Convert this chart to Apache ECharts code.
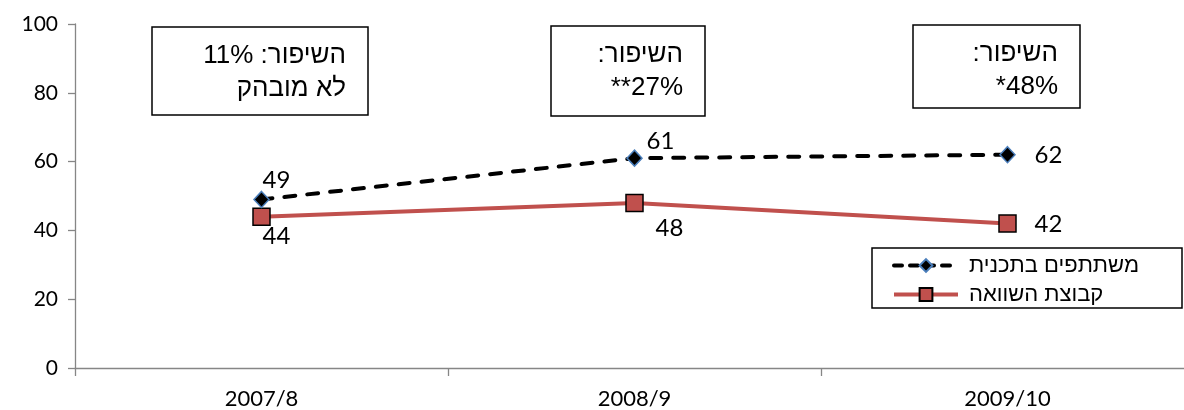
<!DOCTYPE html>
<html>
<head>
<meta charset="utf-8">
<script src="https://cdn.jsdelivr.net/npm/echarts@6/dist/echarts.min.js"></script>
<style>
html,body{margin:0;padding:0;background:#fff;}
#chart{width:1184px;height:410px;}
</style>
</head>
<body>
<div id="chart" dir="rtl"></div>
<script>
// ---- data ----
const categories = ['2007/8', '2008/9', '2009/10'];
const participants = [49, 61, 62];
const comparison = [44, 48, 42];
const seriesNames = ['משתתפים בתכנית', 'קבוצת השוואה'];
const yTicks = { min: 0, max: 100, interval: 20 };
const boxTexts = [
  'השיפור: 11%\nלא מובהק',
  'השיפור:\n27%**',
  'השיפור:\n48%*'
];

// ---- styles (label placements, not data) ----
const labelOffsets1 = [[15, -19], [26, -17], [41, 1]];
const labelOffsets2 = [[15, 20], [35, 25], [41, 1]];
const boxRects = [
  { x: 152, y: 27, w: 216, h: 88, tx: 346 },
  { x: 551, y: 26, w: 154, h: 90, tx: 683 },
  { x: 913, y: 25, w: 167, h: 83, tx: 1058 }
];
const legendFrame = { x: 872, y: 248, w: 310, h: 60 };

const numFont = 'Lato, "Liberation Sans", sans-serif';
const hebFont = '"Liberation Sans", Arial, sans-serif';

function withLabels(values, offsets) {
  return values.map((v, i) => ({
    value: v,
    label: { offset: offsets[i] }
  }));
}

const graphics = [];
boxRects.forEach((b, i) => {
  graphics.push({
    type: 'rect',
    shape: { x: b.x, y: b.y, width: b.w, height: b.h },
    style: { fill: '#fff', stroke: '#000', lineWidth: 1.5 },
    z: 10
  });
  graphics.push({
    type: 'text',
    x: b.tx,
    y: b.y + 12,
    style: {
      text: boxTexts[i],
      font: '26px ' + hebFont,
      fill: '#000',
      textAlign: 'right',
      textVerticalAlign: 'top',
      lineHeight: 33
    },
    z: 11
  });
});
graphics.push({
  type: 'rect',
  shape: { x: legendFrame.x, y: legendFrame.y, width: legendFrame.w, height: legendFrame.h },
  style: { fill: '#fff', stroke: '#000', lineWidth: 1.5 },
  z: 10
});

const chart = echarts.init(document.getElementById('chart'), null, { renderer: 'canvas' });
chart.setOption({
  animation: false,
  backgroundColor: '#fff',
  grid: { left: 75, top: 24, width: 1119, height: 344, containLabel: false, outerBoundsMode: 'none' },
  xAxis: {
    type: 'category',
    data: categories,
    boundaryGap: true,
    axisLine: { lineStyle: { color: '#868686', width: 1.3 } },
    axisTick: { show: true, length: 8, lineStyle: { color: '#868686', width: 1.3 } },
    axisLabel: { color: '#000', fontSize: 22, fontFamily: numFont, margin: 20 },
    splitLine: { show: false }
  },
  yAxis: {
    type: 'value',
    min: yTicks.min,
    max: yTicks.max,
    interval: yTicks.interval,
    axisLine: { show: true, lineStyle: { color: '#868686', width: 1.3 } },
    axisTick: { show: true, length: 7, lineStyle: { color: '#868686', width: 1.3 } },
    axisLabel: { color: '#000', fontSize: 21, fontFamily: numFont, margin: 17 },
    splitLine: { show: false }
  },
  legend: {
    orient: 'vertical',
    left: 872,
    top: 248,
    padding: [5, 10, 4, 20],
    itemGap: 4,
    itemWidth: 64,
    itemHeight: 16,
    textStyle: { fontSize: 22, fontFamily: hebFont, color: '#000', lineHeight: 25, padding: [0, 0, 0, 6] },
    data: [
      { name: seriesNames[0], lineStyle: { width: 4, type: [8, 8], cap: 'round' } },
      { name: seriesNames[1], lineStyle: { width: 4 } }
    ],
    z: 12
  },
  series: [
    {
      name: seriesNames[0],
      type: 'line',
      data: withLabels(participants, labelOffsets1),
      symbol: 'diamond',
      symbolSize: [15, 16],
      itemStyle: { color: '#000', borderColor: '#4a7ebb', borderWidth: 1.5 },
      lineStyle: { color: '#000', width: 4, type: [11, 12], cap: 'round' },
      label: { show: true, position: 'inside', fontSize: 24, fontFamily: numFont, color: '#000' },
      z: 3
    },
    {
      name: seriesNames[1],
      type: 'line',
      data: withLabels(comparison, labelOffsets2),
      symbol: 'rect',
      symbolSize: 17,
      itemStyle: { color: '#c0504d', borderColor: '#000', borderWidth: 1.5 },
      lineStyle: { color: '#c0504d', width: 4 },
      label: { show: true, position: 'inside', fontSize: 24, fontFamily: numFont, color: '#000' },
      z: 2
    }
  ],
  graphic: graphics
});
</script>
</body>
</html>
